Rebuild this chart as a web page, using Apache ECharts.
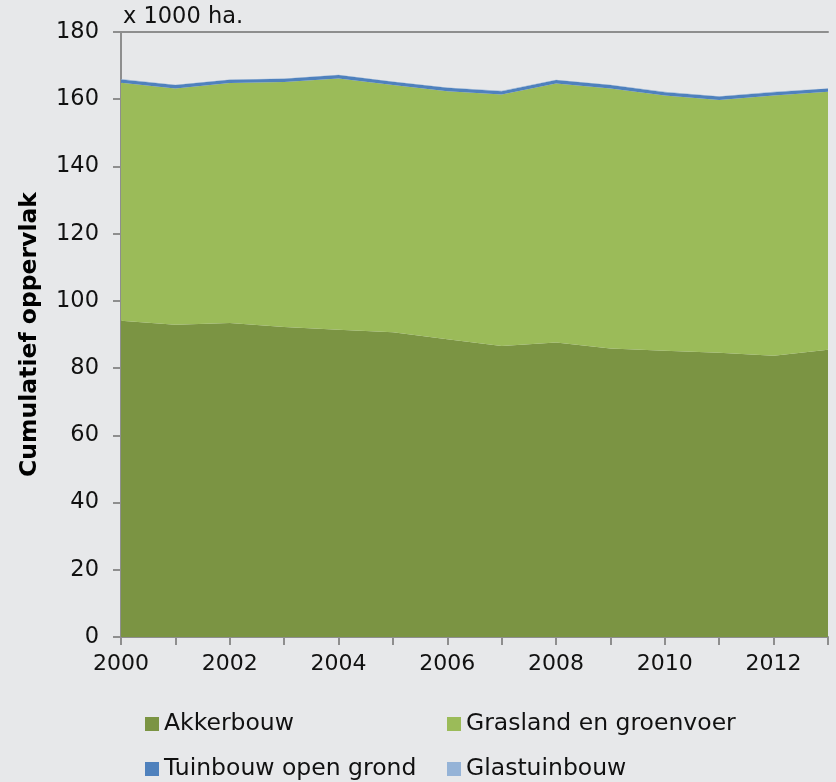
<!DOCTYPE html>
<html>
<head>
<meta charset="utf-8">
<script src="https://cdn.jsdelivr.net/npm/echarts@6/dist/echarts.min.js"></script>
<style>
  html, body { margin: 0; padding: 0; background: #e7e8ea; }
  #main { width: 836px; height: 782px; }
</style>
</head>
<body>
<div id="main"></div>
<script>
const years = ["2000", "2001", "2002", "2003", "2004", "2005", "2006", "2007", "2008", "2009", "2010", "2011", "2012", "2013"];
const akkerbouw = [94.1, 92.9, 93.4, 92.2, 91.4, 90.7, 88.6, 86.6, 87.6, 85.8, 85.2, 84.6, 83.7, 85.5];
const grasland = [70.8, 70.3, 71.4, 72.9, 74.8, 73.5, 73.8, 74.8, 77.1, 77.4, 75.9, 75.2, 77.4, 76.7];
const tuinbouw = [1.0, 1.0, 1.0, 1.0, 1.0, 1.0, 1.0, 1.0, 1.0, 1.0, 1.0, 1.0, 1.0, 1.0];
const glastuinbouw = [0.1, 0.1, 0.1, 0.1, 0.1, 0.1, 0.1, 0.1, 0.1, 0.1, 0.1, 0.1, 0.1, 0.1];

const FONT = "DejaVu Sans";
const chart = echarts.init(document.getElementById("main"));

const areaSeries = (name, data, color) => ({
  name: name,
  type: "line",
  stack: "total",
  data: data,
  symbol: "none",
  lineStyle: { width: 0 },
  areaStyle: { color: color, opacity: 1 },
  itemStyle: { color: color },
});

// one legend per cell so the 2x2 grid lines up like the original
const legendItem = (name, left, top) => ({
  data: [name],
  left: left,
  top: top,
  padding: 0,
  icon: "rect",
  itemWidth: 14,
  itemHeight: 14,
  textStyle: { fontFamily: FONT, fontSize: 23.5, color: "#111" },
});

const option = {
  backgroundColor: "#e7e8ea",
  animation: false,
  grid: { left: 121, right: 8, top: 32, bottom: 145 },
  graphic: [
    {
      type: "text",
      left: 123,
      top: 6,
      style: { text: "x 1000 ha.", fontFamily: FONT, fontSize: 22.5, fill: "#111" },
    },
  ],
  legend: [
    legendItem("Akkerbouw", 145, 712),
    legendItem("Grasland en groenvoer", 447, 712),
    legendItem("Tuinbouw open grond", 145, 757),
    legendItem("Glastuinbouw", 447, 757),
  ],
  xAxis: [
    {
      type: "category",
      data: years,
      boundaryGap: false,
      axisLine: { lineStyle: { color: "#8e8e8e", width: 2 } },
      axisTick: { show: true, interval: 0, length: 8, lineStyle: { color: "#8e8e8e", width: 2 } },
      axisLabel: { interval: 1, margin: 16, fontFamily: FONT, fontSize: 22, color: "#111" },
    },
    {
      type: "category",
      data: years,
      position: "top",
      boundaryGap: false,
      axisLine: { lineStyle: { color: "#8e8e8e", width: 2 } },
      axisTick: { show: false },
      axisLabel: { show: false },
    },
  ],
  yAxis: {
    type: "value",
    min: 0,
    max: 180,
    interval: 20,
    name: "Cumulatief oppervlak",
    nameLocation: "middle",
    nameGap: 79,
    nameTextStyle: { fontFamily: FONT, fontSize: 23.5, fontWeight: "bold", color: "#000" },
    axisLine: { show: true, lineStyle: { color: "#8e8e8e", width: 2 } },
    axisTick: { show: true, length: 8, lineStyle: { color: "#8e8e8e", width: 2 } },
    axisLabel: { margin: 22, fontFamily: FONT, fontSize: 22.5, color: "#111" },
    splitLine: { show: false },
  },
  series: [
    areaSeries("Akkerbouw", akkerbouw, "#7b9443"),
    areaSeries("Grasland en groenvoer", grasland, "#9bbb59"),
    areaSeries("Tuinbouw open grond", tuinbouw, "#4f81bd"),
    areaSeries("Glastuinbouw", glastuinbouw, "#95b3d7"),
  ],
};

chart.setOption(option);
</script>
</body>
</html>
